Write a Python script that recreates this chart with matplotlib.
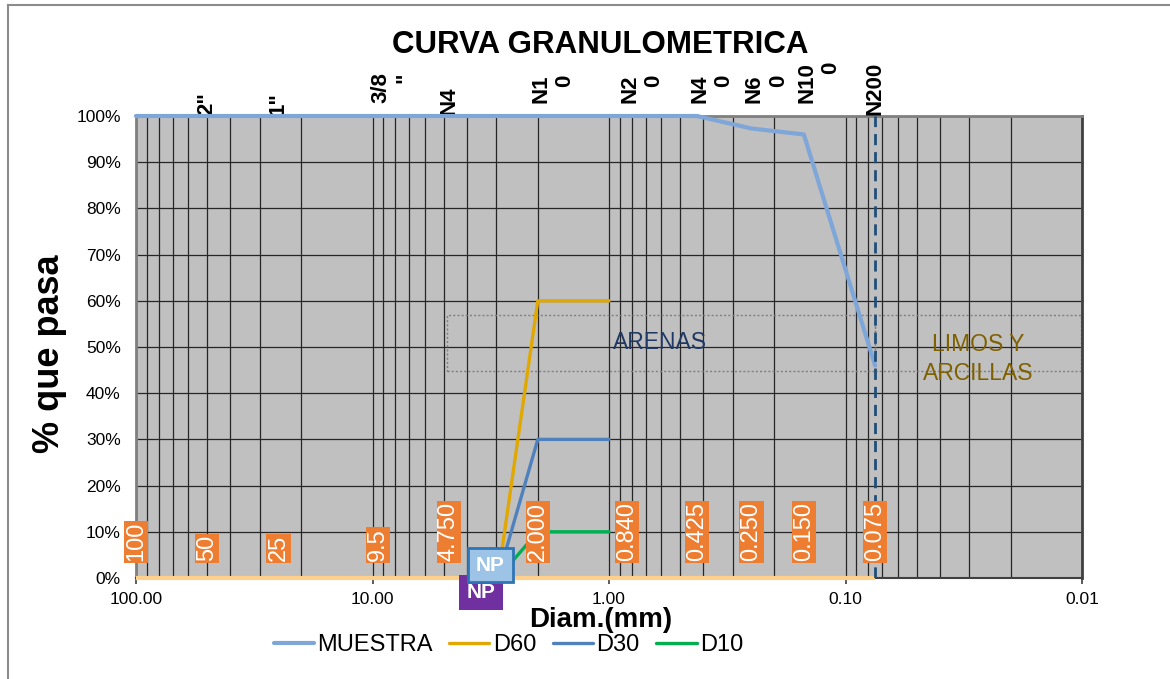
import numpy as np
import matplotlib.pyplot as plt
from matplotlib.lines import Line2D
from matplotlib.patches import Rectangle
from matplotlib.ticker import FixedLocator, FuncFormatter, LogLocator, NullFormatter

# tamices: abertura (mm), etiqueta y % que pasa
sieve_mm = [100, 50, 25, 9.5, 4.75, 2.0, 0.84, 0.425, 0.25, 0.15, 0.075]
sieve_txt = ['100', '50', '25', '9.5', '4.750', '2.000', '0.840', '0.425', '0.250', '0.150', '0.075']
pasa = [100, 100, 100, 100, 100, 100, 100, 100, 97.3, 96.0, 46.0]

# nombres de tamiz arriba del grafico
top_mm = [50, 25, 9.5, 4.75, 2.0, 0.84, 0.425, 0.25, 0.15, 0.075]
top_txt = ['2"', '1"', '3/8\n"', 'N4', 'N1\n0', 'N2\n0', 'N4\n0', 'N6\n0', 'N10\n0', 'N200']

# lineas D60 / D30 / D10
d_mm = [2.95, 2.0, 1.0]
d60 = [0, 60, 60]
d30 = [0, 30, 30]
d10 = [0, 10, 10]

plt.rcParams['font.family'] = ['Liberation Sans', 'DejaVu Sans']

fig = plt.figure(figsize=(11.7, 6.79), dpi=100)
ax = fig.add_axes([136/1170, 101/679, 946/1170, 462/679])
ax.set_facecolor('#C0C0C0')
ax.set_xscale('log')
ax.set_xlim(100, 0.01)
ax.set_ylim(0, 100)

ax.xaxis.set_major_locator(FixedLocator([100, 10, 1, 0.1, 0.01]))
ax.xaxis.set_major_formatter(FuncFormatter(lambda v, p: f'{v:.2f}'))
ax.xaxis.set_minor_locator(LogLocator(base=10, subs=np.arange(2, 10), numticks=40))
ax.xaxis.set_minor_formatter(NullFormatter())
ax.set_yticks(np.arange(0, 101, 10))
ax.yaxis.set_major_formatter(FuncFormatter(lambda v, p: f'{v:.0f}%'))
ax.grid(True, which='both', axis='x', color='#262626', lw=0.9)
ax.grid(True, which='major', axis='y', color='#262626', lw=0.9)
ax.set_axisbelow(True)
ax.tick_params(axis='x', which='major', length=4, width=1.2, color='#404040', pad=6, labelsize=12.5)
ax.tick_params(axis='x', which='minor', length=0)
ax.tick_params(axis='y', length=0, pad=11, labelsize=12.5)

ax.spines['top'].set_color('#808080')
ax.spines['top'].set_linewidth(2)
ax.spines['left'].set_color('#7F7F7F')
ax.spines['left'].set_linewidth(2)
ax.spines['right'].set_color('#404040')
ax.spines['right'].set_linewidth(2)
ax.spines['bottom'].set_color('#404040')
ax.spines['bottom'].set_linewidth(1.5)

# zonas arenas / limos
ax.add_patch(Rectangle((4.85, 44.8), 0.075 - 4.85, 12.2, fill=False, ec='#7F7F7F', lw=1, ls=(0, (1.5, 1.5)), zorder=2))
ax.add_patch(Rectangle((0.075, 44.8), 0.0101 - 0.075, 12.2, fill=False, ec='#7F7F7F', lw=1, ls=(0, (1.5, 1.5)), zorder=2))
ax.text(0.61, 50.9, 'ARENAS', color='#1F3864', ha='center', va='center', fontsize=16.5, zorder=3)
ax.text(0.0275, 47.4, 'LIMOS Y\nARCILLAS', color='#7F6000', ha='center', va='center', fontsize=16.5,
        linespacing=1.3, zorder=3)

ax.plot([sieve_mm[0], sieve_mm[-1]], [0, 0], color='#FFD08C', lw=3, zorder=3, solid_capstyle='butt', clip_on=False)
l1, = ax.plot(sieve_mm, pasa, color='#7EA6D8', lw=3, zorder=4, solid_capstyle='round', clip_on=False)
l2, = ax.plot(d_mm, d60, color='#E0A800', lw=2.4, zorder=4, solid_capstyle='round')
l3, = ax.plot(d_mm, d30, color='#4F81BD', lw=2.4, zorder=4, solid_capstyle='round')
l4, = ax.plot(d_mm, d10, color='#00B050', lw=2.4, zorder=4, solid_capstyle='round')
ax.plot([sieve_mm[-1]] * 2, [0, 100], color='#1F4E79', lw=2, ls=(0, (4, 2.5)), zorder=5)

# etiquetas naranjas de abertura
for x, t in zip(sieve_mm, sieve_txt):
    ax.text(x, 3.6, t, rotation=90, ha='center', va='bottom', color='white', fontsize=17,
            bbox=dict(boxstyle='square,pad=0.05', fc='#ED7D31', ec='none'), zorder=6)

# NP
ax.text(3.48, -3.2, 'NP', ha='center', va='center', color='white', fontsize=15, fontweight='bold',
        bbox=dict(boxstyle='square,pad=0.38', fc='#7030A0', ec='none'), clip_on=False, zorder=7)
ax.text(3.18, 2.8, 'NP', ha='center', va='center', color='white', fontsize=15, fontweight='bold',
        bbox=dict(boxstyle='square,pad=0.38', fc='#9DC3E6', ec='#2E75B6', lw=2), clip_on=False, zorder=8)

# nombres de tamiz arriba
for x, t in zip(top_mm, top_txt):
    two = '\n' in t
    ax.annotate(t, xy=(x, 100), xytext=(15 if two else 0, 13 if two else 1), textcoords='offset pixels',
                rotation=90, ha='center', va='bottom', multialignment='right', fontsize=16,
                fontweight='bold', annotation_clip=False)

fig.text(0.5128, 0.9337, 'CURVA GRANULOMETRICA', ha='center', va='center', fontsize=22.5, fontweight='bold')
fig.text(0.0427, 0.4786, '% que pasa', rotation=90, ha='center', va='center', fontsize=26, fontweight='bold')

fig.legend([l1, l2, l3, l4], ['MUESTRA', 'D60', 'D30', 'D10'], loc='center', bbox_to_anchor=(0.4346, 0.050),
           ncol=4, frameon=False, prop=dict(size=17), handlelength=1.7,
           handletextpad=0.15, columnspacing=0.7)
fig.text(0.5137, 0.0865, 'Diam.(mm)', ha='center', va='center', fontsize=20, fontweight='bold')

# borde del grafico
fig.add_artist(Line2D([7.5/1170, 7.5/1170], [0, 1 - 5/679], color='#8C8C8C', lw=1.5))
fig.add_artist(Line2D([7.5/1170, 1], [1 - 5/679, 1 - 5/679], color='#8C8C8C', lw=1.5))

fig.savefig('out.png', dpi=100)
